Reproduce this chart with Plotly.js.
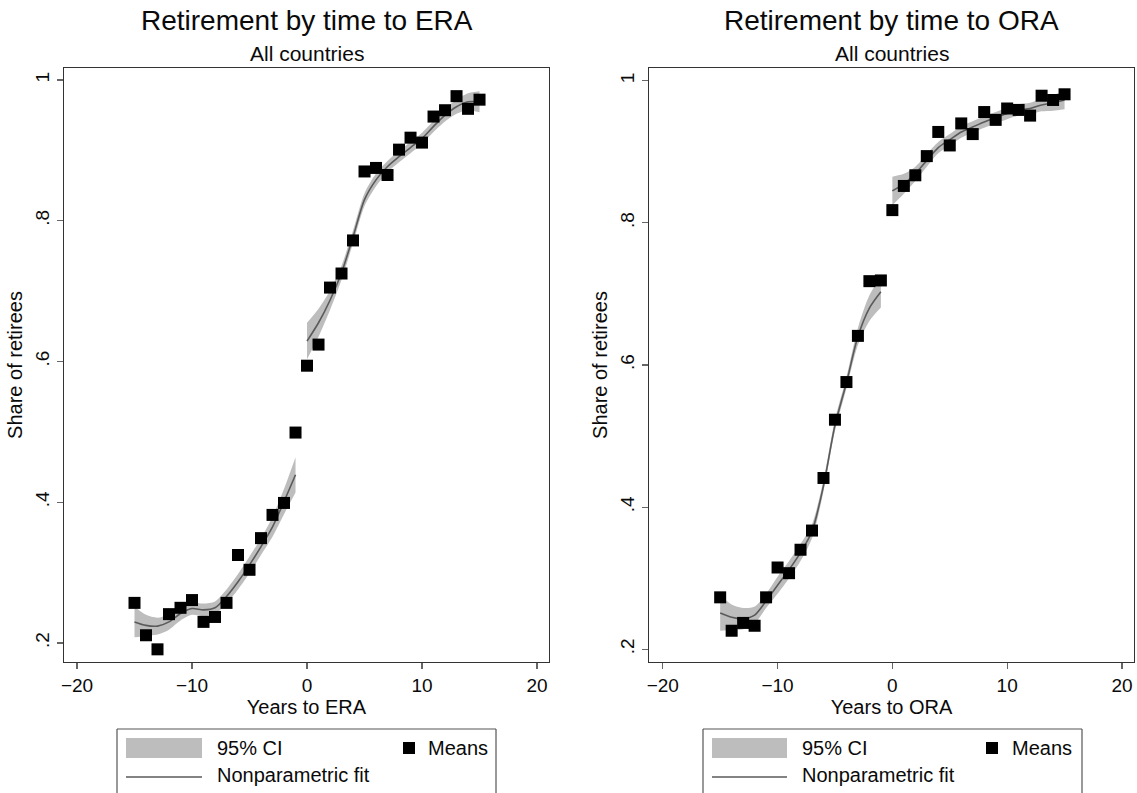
<!DOCTYPE html>
<html>
<head>
<meta charset="utf-8">
<script src="https://cdn.plot.ly/plotly-3.0.1.min.js"></script>
<style>html,body{margin:0;padding:0;background:#fff;}#chart{width:1137px;height:793px;}</style>
</head>
<body>
<div id="chart"></div>
<script>
// ---------- DATA ----------
const years = [-15,-14,-13,-12,-11,-10,-9,-8,-7,-6,-5,-4,-3,-2,-1,0,1,2,3,4,5,6,7,8,9,10,11,12,13,14,15];
const yearsPre = [-15,-14,-13,-12,-11,-10,-9,-8,-7,-6,-5,-4,-3,-2,-1];
const yearsPost = [0,1,2,3,4,5,6,7,8,9,10,11,12,13,14,15];

// Left panel: time to ERA
const eraMeans = [0.257,0.211,0.191,0.241,0.250,0.261,0.230,0.237,0.257,0.325,0.304,0.349,0.382,0.399,0.499,
                  0.594,0.624,0.705,0.725,0.772,0.870,0.875,0.865,0.901,0.918,0.911,0.948,0.957,0.977,0.959,0.972];
const eraFitPre   = [0.230,0.225,0.224,0.230,0.242,0.249,0.247,0.250,0.266,0.287,0.311,0.337,0.365,0.401,0.439];
const eraUpperPre = [0.252,0.240,0.236,0.241,0.252,0.258,0.256,0.259,0.276,0.298,0.323,0.349,0.379,0.419,0.464];
const eraLowerPre = [0.208,0.210,0.212,0.219,0.232,0.240,0.238,0.241,0.256,0.276,0.299,0.325,0.351,0.383,0.414];
const eraFitPost   = [0.629,0.655,0.687,0.726,0.777,0.830,0.858,0.877,0.891,0.904,0.917,0.934,0.950,0.962,0.969,0.969];
const eraUpperPost = [0.655,0.675,0.701,0.736,0.786,0.839,0.867,0.885,0.899,0.912,0.925,0.942,0.959,0.972,0.981,0.984];
const eraLowerPost = [0.603,0.635,0.673,0.716,0.768,0.821,0.849,0.869,0.883,0.896,0.909,0.926,0.941,0.952,0.957,0.954];

// Right panel: time to ORA
const oraMeans = [0.273,0.226,0.237,0.233,0.273,0.315,0.307,0.340,0.367,0.441,0.523,0.576,0.641,0.718,0.719,
                  0.818,0.852,0.867,0.894,0.928,0.909,0.940,0.925,0.956,0.945,0.961,0.959,0.951,0.979,0.973,0.981];
const oraFitPre   = [0.251,0.245,0.243,0.248,0.268,0.290,0.312,0.336,0.366,0.430,0.515,0.575,0.640,0.680,0.703];
const oraUpperPre = [0.276,0.263,0.258,0.260,0.278,0.302,0.324,0.348,0.376,0.438,0.523,0.583,0.652,0.698,0.725];
const oraLowerPre = [0.226,0.227,0.228,0.236,0.258,0.278,0.300,0.324,0.356,0.422,0.507,0.567,0.628,0.662,0.681];
const oraFitPost   = [0.845,0.855,0.869,0.888,0.906,0.917,0.928,0.935,0.942,0.948,0.954,0.959,0.961,0.966,0.969,0.973];
const oraUpperPost = [0.865,0.869,0.879,0.897,0.914,0.925,0.936,0.943,0.950,0.956,0.962,0.967,0.969,0.975,0.980,0.986];
const oraLowerPost = [0.825,0.841,0.859,0.879,0.898,0.909,0.920,0.927,0.934,0.940,0.946,0.951,0.953,0.957,0.958,0.960];

const xTicks = [-20,-10,0,10,20];
const yTickVals = [0.2,0.4,0.6,0.8,1];
const yTickText = ['.2','.4','.6','.8','1'];
const panelTitles = ['Retirement by time to ERA','Retirement by time to ORA'];
const panelSubtitle = 'All countries';
const xTitles = ['Years to ERA','Years to ORA'];
const yTitle = 'Share of retirees';
const legendLabels = {ci:'95% CI', means:'Means', fit:'Nonparametric fit'};

// ---------- STYLE ----------
const FONT = 'Liberation Sans, Arial, sans-serif';
const BAND = '#bdbdbd';
const FITC = '#5a5a5a';
const TXT = '#0a0a0a';
const W = 1137, H = 793;
const px = v => v / W;
const py = v => 1 - v / H;

function panel(xa, ya, fitPre, upPre, loPre, fitPost, upPost, loPost, means) {
  const base = {xaxis: xa, yaxis: ya, showlegend: false, hoverinfo: 'skip'};
  const tr = [];
  [[yearsPre, fitPre, upPre, loPre], [yearsPost, fitPost, upPost, loPost]].forEach(([xs, f, u, l]) => {
    tr.push(Object.assign({}, base, {x: xs, y: l, type: 'scatter', mode: 'lines',
      line: {width: 0, shape: 'spline', smoothing: 0.8, color: BAND}}));
    tr.push(Object.assign({}, base, {x: xs, y: u, type: 'scatter', mode: 'lines', fill: 'tonexty',
      fillcolor: BAND, line: {width: 0, shape: 'spline', smoothing: 0.8, color: BAND}}));
    tr.push(Object.assign({}, base, {x: xs, y: f, type: 'scatter', mode: 'lines',
      line: {width: 1.6, shape: 'spline', smoothing: 0.8, color: FITC}}));
  });
  tr.push(Object.assign({}, base, {x: years, y: means, type: 'scatter', mode: 'markers',
    marker: {symbol: 'square', size: 12, color: '#000'}}));
  return tr;
}

const data = [].concat(
  panel('x', 'y', eraFitPre, eraUpperPre, eraLowerPre, eraFitPost, eraUpperPost, eraLowerPost, eraMeans),
  panel('x2', 'y2', oraFitPre, oraUpperPre, oraLowerPre, oraFitPost, oraUpperPost, oraLowerPost, oraMeans)
);

function xax(domain, title, range) {
  return {domain: domain, range: range, tickvals: xTicks, ticks: 'outside', ticklen: 6, tickcolor: '#666',
    tickwidth: 1.2, showline: true, mirror: true, linecolor: '#333', linewidth: 1.3, showgrid: false,
    zeroline: false, tickfont: {family: FONT, size: 19, color: TXT},
    title: {text: title, font: {family: FONT, size: 20, color: TXT}, standoff: 1}};
}
function yax(domain, anchor, range) {
  return {domain: domain, anchor: anchor, range: range, tickvals: yTickVals, ticktext: yTickText,
    tickangle: -90, ticks: 'outside', ticklen: 6, tickcolor: '#666', tickwidth: 1.2,
    showline: true, mirror: true, linecolor: '#333', linewidth: 1.3, showgrid: false, zeroline: false,
    tickfont: {family: FONT, size: 19, color: TXT},
    title: {text: yTitle, font: {family: FONT, size: 20, color: TXT}, standoff: 4}};
}

const yDom = [py(662), py(68)];
const layout = {
  width: W, height: H, margin: {l: 0, r: 0, t: 0, b: 0}, paper_bgcolor: '#fff', plot_bgcolor: '#fff',
  showlegend: false,
  xaxis: Object.assign(xax([px(64), px(549)], xTitles[0], [-21.13, 21.04]), {anchor: 'y'}),
  yaxis: yax(yDom, 'x', [0.173, 1.017]),
  xaxis2: Object.assign(xax([px(649), px(1134)], xTitles[1], [-21.2, 21.05]), {anchor: 'y2'}),
  yaxis2: yax(yDom, 'x2', [0.182, 1.018]),
  annotations: [], shapes: []
};

// Titles
[[306.5, 0], [891.5, 1]].forEach(([cx, i]) => {
  layout.annotations.push({xref: 'paper', yref: 'paper', x: px(cx), y: py(21), xanchor: 'center', yanchor: 'middle',
    text: panelTitles[i], showarrow: false, font: {family: FONT, size: 28, color: TXT}});
  layout.annotations.push({xref: 'paper', yref: 'paper', x: px(cx), y: py(53), xanchor: 'center', yanchor: 'middle',
    text: panelSubtitle, showarrow: false, font: {family: FONT, size: 21, color: TXT}});
});

// Legends (drawn as boxes with keys)
[[117, 496, 126, 202, 215, 409, 426], [703, 1082, 712, 787, 800, 992, 1010]].forEach(([bx0, bx1, sx0, sx1, tx, mx, mtx]) => {
  const top = 729, bot = 800;
  layout.shapes.push({type: 'line', xref: 'paper', yref: 'paper', x0: px(bx0), x1: px(bx1), y0: py(top), y1: py(top), line: {color: '#555', width: 1.2}});
  layout.shapes.push({type: 'line', xref: 'paper', yref: 'paper', x0: px(bx0), x1: px(bx0), y0: py(top), y1: py(bot), line: {color: '#555', width: 1.2}});
  layout.shapes.push({type: 'line', xref: 'paper', yref: 'paper', x0: px(bx1), x1: px(bx1), y0: py(top), y1: py(bot), line: {color: '#555', width: 1.2}});
  layout.shapes.push({type: 'rect', xref: 'paper', yref: 'paper', x0: px(sx0), x1: px(sx1), y0: py(758), y1: py(738), fillcolor: BAND, line: {width: 0}});
  layout.shapes.push({type: 'line', xref: 'paper', yref: 'paper', x0: px(sx0), x1: px(sx1), y0: py(777), y1: py(777), line: {color: FITC, width: 1.6}});
  layout.shapes.push({type: 'rect', xref: 'paper', yref: 'paper', x0: px(mx - 6), x1: px(mx + 6), y0: py(754), y1: py(742), fillcolor: '#000', line: {width: 0}});
  layout.annotations.push({xref: 'paper', yref: 'paper', x: px(tx), y: py(748), xanchor: 'left', yanchor: 'middle',
    text: legendLabels.ci, showarrow: false, font: {family: FONT, size: 20, color: TXT}});
  layout.annotations.push({xref: 'paper', yref: 'paper', x: px(mtx), y: py(748), xanchor: 'left', yanchor: 'middle',
    text: legendLabels.means, showarrow: false, font: {family: FONT, size: 20, color: TXT}});
  layout.annotations.push({xref: 'paper', yref: 'paper', x: px(tx), y: py(775), xanchor: 'left', yanchor: 'middle',
    text: legendLabels.fit, showarrow: false, font: {family: FONT, size: 20, color: TXT}});
});

Plotly.newPlot('chart', data, layout, {staticPlot: true, displayModeBar: false});
</script>
</body>
</html>
